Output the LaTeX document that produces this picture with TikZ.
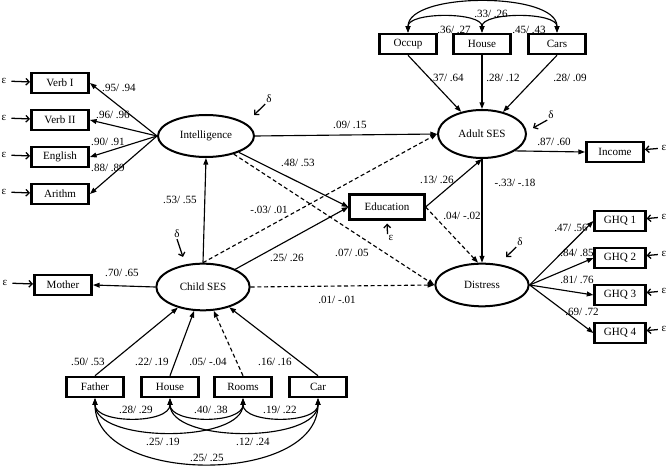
\documentclass[tikz,border=0pt]{standalone}
\usepackage{fontspec}
\setmainfont{Liberation Serif}
\usetikzlibrary{shapes.geometric,arrows.meta}

\tikzset{every picture/.style={line width=0.75pt}}
\tikzset{
  txt/.style={font=\fontsize{8.3}{10}\selectfont},
  obs/.style={txt, draw, line width=1.9pt, minimum width=43pt, minimum height=15pt, inner sep=1pt},
  lat/.style={txt, draw, ellipse, line width=1.5pt, inner sep=1pt},
  lbl/.style={txt, inner sep=0pt},
  eps/.style={txt, inner sep=0.5pt},
  path/.style={-{Triangle[length=5pt,width=3.6pt]}, line width=0.85pt},
  nopath/.style={path, dash pattern={on 3pt off 2pt}},
  cov/.style={{Triangle[length=5pt,width=3.6pt]}-{Triangle[length=5pt,width=3.6pt]}, line width=0.85pt},
  err/.style={-{Straight Barb[length=2.5pt,width=5pt]}, line width=0.95pt},
}

\begin{document}
\begin{tikzpicture}[x=0.75pt,y=0.75pt,yscale=-1,xscale=1]
\useasboundingbox (0,0) rectangle (668,466);

% Latent variables
\node[lat, minimum width=72pt, minimum height=31.5pt] (intel) at (206,136) {Intelligence};
\node[lat, minimum width=66pt, minimum height=36pt] (adult) at (482,134) {Adult SES};
\node[lat, minimum width=70pt, minimum height=35pt] (child) at (203,287) {Child SES};
\node[lat, minimum width=70pt, minimum height=32pt] (distr) at (482,285) {Distress};

% Intelligence indicators
\node[obs] (verbI) at (60,83) {Verb I};
\node[obs] (verbII) at (60,120) {Verb II};
\node[obs] (english) at (60,157) {English};
\node[obs] (arithm) at (60,194) {Arithm};

% Adult SES indicators
\node[obs] (occup) at (408,44) {Occup};
\node[obs] (house) at (482,44) {House};
\node[obs] (cars) at (557,44) {Cars};
\node[obs] (income) at (615,152) {Income};

% Child SES indicators
\node[obs] (mother) at (63,285) {Mother};
\node[obs] (father) at (95,387) {Father};
\node[obs] (chouse) at (170,387) {House};
\node[obs] (rooms) at (243,387) {Rooms};
\node[obs] (car) at (318,387) {Car};

% Distress indicators
\node[obs, minimum width=38pt] (ghqI) at (620,221) {GHQ 1};
\node[obs, minimum width=38pt] (ghqII) at (620,258) {GHQ 2};
\node[obs, minimum width=38pt] (ghqIII) at (620,295) {GHQ 3};
\node[obs, minimum width=38pt] (ghqIV) at (620,333) {GHQ 4};

% Mediator
\node[obs, minimum width=56pt, minimum height=19pt] (educ) at (387,207) {Education};

% Error terms
\node[eps] (eVerbI) at (4,81) {ε};
\node[eps] (eVerbII) at (4,118) {ε};
\node[eps] (eEnglish) at (4,155) {ε};
\node[eps] (eArithm) at (4,192) {ε};
\node[eps] (eMother) at (5,283) {ε};
\node[eps] (eIncome) at (664,148) {ε};
\node[eps] (eGhqI) at (664,217) {ε};
\node[eps] (eGhqII) at (664,254) {ε};
\node[eps] (eGhqIII) at (664,291) {ε};
\node[eps] (eGhqIV) at (664,329) {ε};
\node[eps] (eEduc) at (391,238) {ε};
\draw[err, shorten <=3pt] (eVerbI) -- (verbI);
\draw[err, shorten <=3pt] (eVerbII) -- (verbII);
\draw[err, shorten <=3pt] (eEnglish) -- (english);
\draw[err, shorten <=3pt] (eArithm) -- (arithm);
\draw[err, shorten <=3pt] (eMother) -- (mother);
\draw[err, shorten <=2pt] (eIncome) -- (income);
\draw[err, shorten <=2pt] (eGhqI) -- (ghqI);
\draw[err, shorten <=2pt] (eGhqII) -- (ghqII);
\draw[err, shorten <=2pt] (eGhqIII) -- (ghqIII);
\draw[err, shorten <=2pt] (eGhqIV) -- (ghqIV);
\draw[err, shorten >=2pt] (eEduc.north west) -- (educ.south);

% Disturbances
\node[eps] (dIntel) at (269,99) {δ};
\node[eps] (dAdult) at (551,115) {δ};
\node[eps] (dDistr) at (520,242) {δ};
\node[eps] (dChild) at (177,234) {δ};
\coordinate (dIntelTip) at (254,115);
\coordinate (dAdultTip) at (533,128);
\coordinate (dDistrTip) at (506,257);
\coordinate (dChildTip) at (183,257);
\draw[err] (dIntel.south west) -- (dIntelTip);
\draw[err] (dAdult.south west) -- (dAdultTip);
\draw[err] (dDistr.south west) -- (dDistrTip);
\draw[err] (dChild.south) -- (dChildTip);

% Measurement paths
\draw[path] (intel.west) -- (verbI.east);
\draw[path] (intel.west) -- (verbII.east);
\draw[path] (intel.west) -- (english.east);
\draw[path] (intel.west) -- (arithm.east);
\draw[path] (occup.south) -- (adult);
\draw[path] (house.south) -- (adult.north);
\draw[path] (cars.south) -- (adult);
\draw[path] (adult.-27) -- (income.west);
\draw[path] (child.west) -- (mother.east);
\draw[path] (father.north) -- (child);
\draw[path] (chouse.north) -- (child);
\draw[nopath] (rooms.north) -- (child);
\draw[path] (car.north) -- (child);
\draw[path] (distr.east) -- (ghqI.west);
\draw[path] (distr.east) -- (ghqII.west);
\draw[path] (distr.east) -- (ghqIII.west);
\draw[path] (distr.east) -- (ghqIV.west);

% Structural paths
\draw[path] (child.north) -- (intel.south);
\draw[path] (intel.east) -- (adult.west);
\draw[path] (intel) -- (educ.west);
\draw[nopath] (intel) -- (distr.west);
\draw[nopath] (child.north) -- (adult.west);
\draw[path] (child) -- (educ.west);
\draw[nopath] (child.east) -- (distr.west);
\draw[path] (educ.east) -- (adult.south);
\draw[nopath] (educ.east) -- (distr.100);
\draw[path] (adult.south) -- (distr.north);

% Covariances
\draw[cov] (occup.north) .. controls +(0,-21) and +(0,-21) .. (house.north);
\draw[cov] (house.north) .. controls +(0,-21) and +(0,-21) .. (cars.north);
\draw[cov] (occup.north) .. controls +(0,-41) and +(0,-41) .. (cars.north);
\draw[cov] (father.south) .. controls +(0,26) and +(0,26) .. (chouse.south);
\draw[cov] (chouse.south) .. controls +(0,26) and +(0,26) .. (rooms.south);
\draw[cov] (rooms.south) .. controls +(0,26) and +(0,26) .. (car.south);
\draw[cov] (father.south) .. controls +(0,45) and +(0,45) .. (rooms.south);
\draw[cov] (chouse.south) .. controls +(0,45) and +(0,45) .. (car.south);
\draw[cov] (father.south) .. controls +(0,87) and +(0,87) .. (car.south);

% Estimates
\node[lbl] (lVerbI) at (119,88) {.95/ .94};
\node[lbl] (lVerbII) at (113,115) {.96/ .96};
\node[lbl] (lEnglish) at (108,142) {.90/ .91};
\node[lbl] (lArithm) at (108,168) {.88/ .89};
\node[lbl] (lOccup) at (447,78) {.37/ .64};
\node[lbl] (lHouse) at (503,78) {.28/ .12};
\node[lbl] (lCars) at (570,78) {.28/ .09};
\node[lbl] (lOcHo) at (454,30) {.36/ .27};
\node[lbl] (lHoCa) at (529,30) {.45/ .43};
\node[lbl] (lOcCa) at (491,14) {.33/ .26};
\node[lbl] (lIncome) at (554,142) {.87/ .60};
\node[lbl] (lIntAdu) at (350,125) {.09/ .15};
\node[lbl] (lIntEdu) at (298,163) {.48/ .53};
\node[lbl] (lChiAdu) at (269,210) {-.03/ .01};
\node[lbl] (lChiEdu) at (287,258) {.25/ .26};
\node[lbl] (lIntDis) at (352,253) {.07/ .05};
\node[lbl] (lChiDis) at (337,300) {.01/ -.01};
\node[lbl] (lChiInt) at (180,200) {.53/ .55};
\node[lbl] (lEduAdu) at (437,180) {.13/ .26};
\node[lbl] (lEduDis) at (462,216) {.04/ -.02};
\node[lbl] (lAduDis) at (515,183) {-.33/ -.18};
\node[lbl] (lGhqI) at (571,228) {.47/ .56};
\node[lbl] (lGhqII) at (577,253) {.84/ .85};
\node[lbl] (lGhqIII) at (577,280) {.81/ .76};
\node[lbl] (lGhqIV) at (582,312) {.69/ .72};
\node[lbl] (lMother) at (122,273) {.70/ .65};
\node[lbl] (lFather) at (88,362) {.50/ .53};
\node[lbl] (lChouse) at (152,362) {.22/ .19};
\node[lbl] (lRooms) at (208,362) {.05/ -.04};
\node[lbl] (lCar) at (275,362) {.16/ .16};
\node[lbl] (lFaHo) at (136,410) {.28/ .29};
\node[lbl] (lHoRo) at (211,410) {.40/ .38};
\node[lbl] (lRoCa) at (280,410) {.19/ .22};
\node[lbl] (lFaRo) at (163,442) {.25/ .19};
\node[lbl] (lHoCar) at (253,442) {.12/ .24};
\node[lbl] (lFaCa) at (207,458) {.25/ .25};
\end{tikzpicture}
\end{document}
